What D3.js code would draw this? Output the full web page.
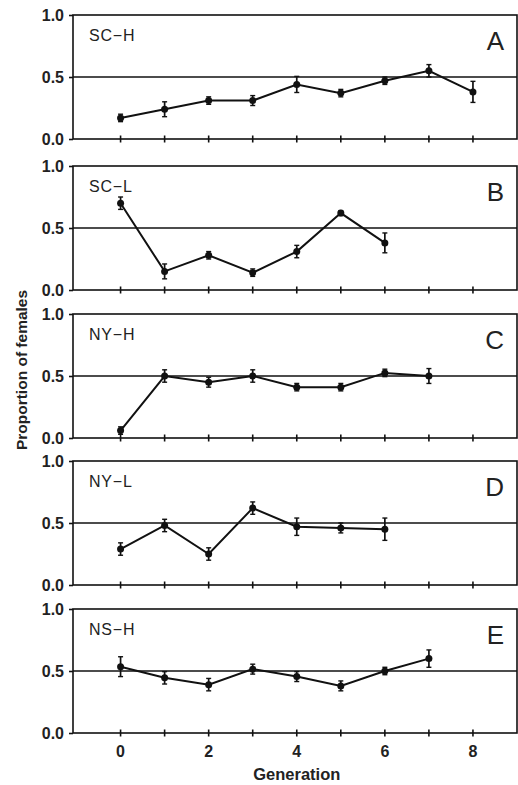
<!DOCTYPE html>
<html><head><meta charset="utf-8">
<script src="https://cdn.jsdelivr.net/npm/d3@7"></script>
<style>body{margin:0;background:#fff}svg{display:block}</style>
</head><body>
<svg id="c" width="518" height="785"></svg>
<script>
const panelNames = ["SC\u2212H","SC\u2212L","NY\u2212H","NY\u2212L","NS\u2212H"];
const panelLetters = ["A","B","C","D","E"];
const scH = [0.17,0.24,0.31,0.31,0.44,0.37,0.47,0.55,0.38];
const scHErr = [0.03,0.06,0.03,0.04,0.065,0.03,0.03,0.05,0.085];
const scL = [0.70,0.15,0.28,0.14,0.31,0.62,0.38];
const scLErr = [0.05,0.06,0.03,0.03,0.05,0.02,0.08];
const nyH = [0.06,0.50,0.45,0.50,0.41,0.41,0.525,0.50];
const nyHErr = [0.03,0.05,0.04,0.05,0.03,0.03,0.03,0.06];
const nyL = [0.29,0.48,0.25,0.62,0.47,0.46,0.45];
const nyLErr = [0.05,0.05,0.05,0.05,0.07,0.04,0.09];
const nsH = [0.535,0.445,0.39,0.515,0.455,0.38,0.50,0.60];
const nsHErr = [0.08,0.05,0.05,0.04,0.04,0.04,0.03,0.07];
const series = [[scH,scHErr],[scL,scLErr],[nyH,nyHErr],[nyL,nyLErr],[nsH,nsHErr]];
const xTickValues = [0,1,2,3,4,5,6,7,8];
const xTickLabels = [0,2,4,6,8];
const yTickValues = [0,0.5,1.0];
const refLine = 0.5;

const svg = d3.select("#c");
const left = 73, right = 517;
const tops = [15,166,314,461,609];
const ph = 124;
const x = d3.scaleLinear().domain([-1.08,9]).range([left,right]);
const font = "Arial, 'Liberation Sans', sans-serif";
const ink = "#111";

series.forEach(([vals,errs],i)=>{
  const top = tops[i];
  const y = d3.scaleLinear().domain([0,1]).range([top+ph,top]);
  const g = svg.append("g");
  g.append("rect").attr("x",left).attr("y",top).attr("width",right-left).attr("height",ph)
    .attr("fill","none").attr("stroke",ink).attr("stroke-width",1.6);
  g.append("line").attr("x1",left).attr("x2",right).attr("y1",y(refLine)).attr("y2",y(refLine))
    .attr("stroke",ink).attr("stroke-width",1.4);
  const ya = d3.axisLeft(y).tickValues(yTickValues).tickFormat(d3.format(".1f")).tickSize(4).tickPadding(5);
  const yg = g.append("g").attr("transform",`translate(${left},0)`).call(ya);
  yg.select(".domain").remove();
  yg.selectAll("line").attr("stroke",ink).attr("stroke-width",1.6);
  yg.selectAll("text").attr("font-family",font).attr("font-size",16).attr("font-weight","bold").attr("fill","#222");
  g.selectAll(".xt").data(xTickValues).enter().append("line")
    .attr("x1",d=>x(d)).attr("x2",d=>x(d)).attr("y1",top+ph-3.5).attr("y2",top+ph+3.5)
    .attr("stroke",ink).attr("stroke-width",1.6);
  g.append("path").datum(vals).attr("fill","none").attr("stroke",ink).attr("stroke-width",2)
    .attr("d",d3.line().x((d,j)=>x(j)).y(d=>y(d)));
  const eb = g.selectAll(".eb").data(vals).enter().append("g");
  eb.append("line").attr("x1",(d,j)=>x(j)).attr("x2",(d,j)=>x(j))
    .attr("y1",(d,j)=>y(d-errs[j])).attr("y2",(d,j)=>y(d+errs[j])).attr("stroke",ink).attr("stroke-width",1.7);
  eb.append("line").attr("x1",(d,j)=>x(j)-2.5).attr("x2",(d,j)=>x(j)+2.5)
    .attr("y1",(d,j)=>y(d+errs[j])).attr("y2",(d,j)=>y(d+errs[j])).attr("stroke",ink).attr("stroke-width",1.4);
  eb.append("line").attr("x1",(d,j)=>x(j)-2.5).attr("x2",(d,j)=>x(j)+2.5)
    .attr("y1",(d,j)=>y(d-errs[j])).attr("y2",(d,j)=>y(d-errs[j])).attr("stroke",ink).attr("stroke-width",1.4);
  eb.append("circle").attr("cx",(d,j)=>x(j)).attr("cy",d=>y(d)).attr("r",3.5).attr("fill",ink);
  g.append("text").attr("x",left+16).attr("y",top+26).text(panelNames[i])
    .attr("font-family",font).attr("font-size",16).attr("letter-spacing","0.8px").attr("fill","#222");
  g.append("text").attr("x",right-13).attr("y",top+35).attr("text-anchor","end").text(panelLetters[i])
    .attr("font-family",font).attr("font-size",26).attr("fill","#222");
  if(i===series.length-1){
    g.selectAll(".xl").data(xTickLabels).enter().append("text")
      .attr("x",d=>x(d)).attr("y",top+ph+24).attr("text-anchor","middle").text(d=>d)
      .attr("font-family",font).attr("font-size",16).attr("font-weight","bold").attr("fill","#222");
  }
});
svg.append("text").attr("x",(x(0)+x(8))/2+0).attr("y",780).attr("text-anchor","middle").text("Generation")
  .attr("font-family",font).attr("font-size",16.5).attr("font-weight","bold").attr("fill","#222");
svg.append("text").attr("transform","translate(27,370) rotate(-90)").attr("text-anchor","middle")
  .text("Proportion of females").attr("font-family",font).attr("font-size",15.5).attr("font-weight","bold").attr("fill","#222");
</script>
</body></html>
